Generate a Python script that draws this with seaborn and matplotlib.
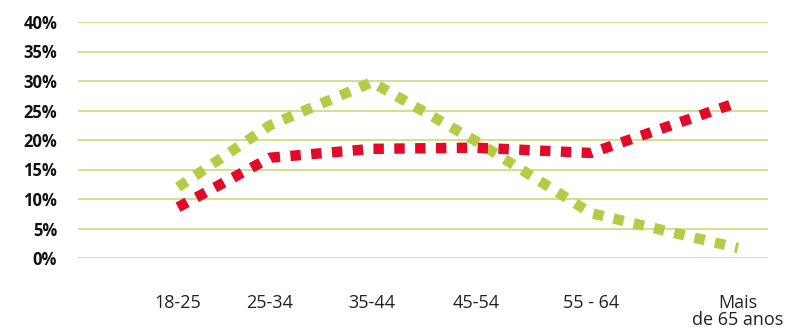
import pandas as pd
import numpy as np
import seaborn as sns
import matplotlib.pyplot as plt

# age groups on the x axis
age_groups = ['18-25', '25-34', '35-44', '45-54', '55 - 64', 'Mais\nde 65 anos']
# where each group label sits along the axis (the reference spacing is uneven)
group_pos = [0.0, 0.92, 1.94, 2.98, 4.13, 5.60]

# values in percent
serie_verde = [12.0, 22.5, 29.8, 19.8, 7.6, 1.7]
serie_vermelha = [8.6, 17.0, 18.5, 18.7, 17.8, 26.4]

y_ticks = [0, 5, 10, 15, 20, 25, 30, 35, 40]

verde = '#b3cc45'
vermelho = '#e20a28'
grelha = '#c5d870'

df = pd.concat([
    pd.DataFrame({'pos': group_pos, 'valor': serie_verde, 'serie': 'verde'}),
    pd.DataFrame({'pos': group_pos, 'valor': serie_vermelha, 'serie': 'vermelha'}),
])

sns.set_theme(style='white')
plt.rcParams['font.family'] = ['Open Sans', 'DejaVu Sans']

fig = plt.figure(figsize=(7.94, 3.27), dpi=100)
ax = fig.add_axes([78 / 794, 1 - 258 / 327, 690 / 794, 236 / 327])

for y in y_ticks:
    ax.axhline(y, color=grelha, lw=1.1, zorder=0)

sns.lineplot(data=df, x='pos', y='valor', hue='serie',
             palette={'verde': verde, 'vermelha': vermelho},
             style='serie', dashes={'verde': (1, 1), 'vermelha': (1, 1)},
             linewidth=7.5, legend=False, ax=ax, sort=False)
for line in ax.get_lines():
    line.set_dash_capstyle('butt')
    line.set_solid_capstyle('butt')

ax.set_xlim(-1.0, 5.9)
ax.set_ylim(0, 40)
ax.set_yticks(y_ticks)
ax.set_yticklabels([f'{v}%' for v in y_ticks], fontsize=12, fontweight='bold', color='#111111')
ax.set_xticks(group_pos)
ax.set_xticklabels(age_groups, fontsize=13, color='#222222', linespacing=0.95)
ax.tick_params(axis='y', length=0, pad=15)
ax.tick_params(axis='x', length=0, pad=26)
ax.set_xlabel('')
ax.set_ylabel('')
for s in ax.spines.values():
    s.set_visible(False)

fig.savefig('out.png', dpi=100)
